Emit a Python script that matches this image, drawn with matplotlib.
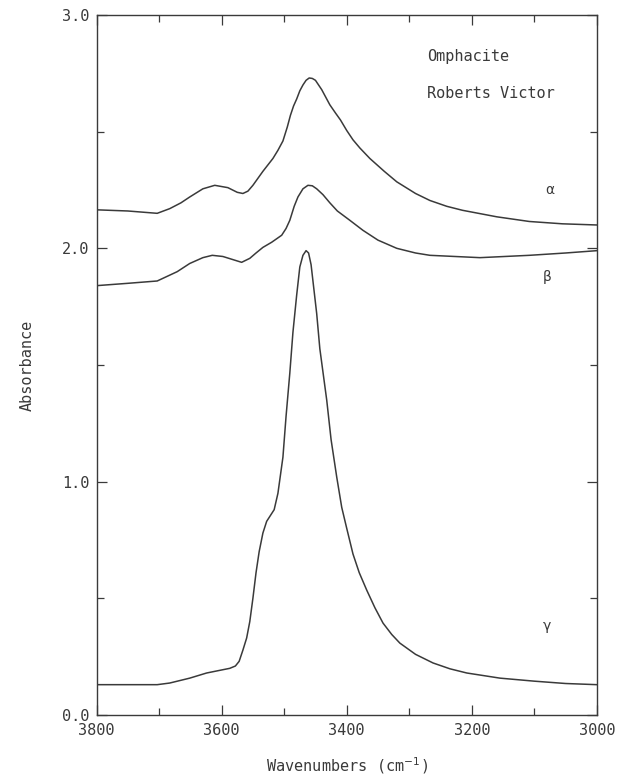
import matplotlib
matplotlib.use("Agg")
import matplotlib.pyplot as plt
from matplotlib.ticker import MultipleLocator, FormatStrFormatter

# spectra (wavenumber, absorbance)
alpha_wn = [3800, 3750, 3703, 3683, 3665, 3651, 3630, 3611, 3590, 3575, 3566, 3558,
            3550, 3542, 3534, 3518, 3510, 3502, 3495, 3490, 3485, 3480, 3475, 3470,
            3465, 3460, 3455, 3450, 3445, 3440, 3433, 3427, 3418, 3410, 3400, 3390,
            3379, 3363, 3340, 3320, 3290, 3267, 3240, 3215, 3160, 3108, 3055, 3000]
alpha_abs = [2.165, 2.16, 2.15, 2.17, 2.195, 2.22, 2.255, 2.27, 2.26, 2.24, 2.235, 2.245,
             2.27, 2.30, 2.33, 2.385, 2.42, 2.46, 2.52, 2.57, 2.61, 2.64, 2.675, 2.70,
             2.72, 2.73, 2.728, 2.72, 2.70, 2.68, 2.645, 2.615, 2.58, 2.55, 2.505, 2.465,
             2.43, 2.385, 2.33, 2.285, 2.235, 2.205, 2.18, 2.163, 2.135, 2.115, 2.105, 2.10]

beta_wn = [3800, 3750, 3703, 3671, 3651, 3630, 3615, 3598, 3580, 3568, 3555, 3545,
           3534, 3520, 3504, 3497, 3491, 3484, 3478, 3470, 3462, 3455, 3448, 3438,
           3427, 3415, 3395, 3374, 3350, 3320, 3290, 3267, 3187, 3108, 3050, 3000]
beta_abs = [1.84, 1.85, 1.86, 1.90, 1.935, 1.96, 1.97, 1.965, 1.95, 1.94, 1.957, 1.98,
            2.004, 2.026, 2.056, 2.085, 2.12, 2.18, 2.22, 2.255, 2.27, 2.268, 2.255, 2.23,
            2.195, 2.16, 2.12, 2.077, 2.035, 2.0, 1.98, 1.97, 1.96, 1.97, 1.98, 1.99]

gamma_wn = [3800, 3703, 3683, 3651, 3624, 3600, 3587, 3578, 3572, 3566, 3560, 3555,
            3550, 3545, 3540, 3534, 3528, 3522, 3516, 3510, 3502, 3497, 3491, 3486,
            3480, 3475, 3470, 3465, 3461, 3457, 3454, 3448, 3443, 3437, 3432, 3425,
            3416, 3408, 3400, 3390, 3380, 3368, 3355, 3342, 3328, 3315, 3290, 3262,
            3235, 3208, 3155, 3100, 3050, 3000]
gamma_abs = [0.13, 0.13, 0.137, 0.158, 0.18, 0.193, 0.20, 0.21, 0.23, 0.278, 0.33, 0.40,
             0.50, 0.61, 0.70, 0.78, 0.83, 0.855, 0.88, 0.95, 1.105, 1.28, 1.465, 1.64,
             1.80, 1.92, 1.97, 1.99, 1.98, 1.93, 1.86, 1.72, 1.57, 1.45, 1.35, 1.18,
             1.02, 0.89, 0.80, 0.69, 0.61, 0.535, 0.46, 0.394, 0.345, 0.308, 0.26, 0.223,
             0.198, 0.18, 0.158, 0.145, 0.135, 0.13]

labels = ["\u03b1", "\u03b2", "\u03b3"]
label_pos = [(3076, 2.25), (3079, 1.875), (3080, 0.38)]
title_lines = ["Omphacite", "Roberts Victor"]

ink = "#3a3a3a"
plt.rcParams['font.family'] = ['DejaVu Sans Mono', 'DejaVu Sans']

fig = plt.figure(figsize=(6.33, 7.76), dpi=100)
ax = fig.add_axes([0.1525, 0.0786, 0.7905, 0.9021])

for wn, ab in [(alpha_wn, alpha_abs), (beta_wn, beta_abs), (gamma_wn, gamma_abs)]:
    ax.plot(wn, ab, color=ink, lw=1.1)

ax.set_xlim(3800, 3000)
ax.set_ylim(0, 3.0)
ax.xaxis.set_major_locator(MultipleLocator(200))
ax.xaxis.set_minor_locator(MultipleLocator(100))
ax.yaxis.set_major_locator(MultipleLocator(1.0))
ax.yaxis.set_minor_locator(MultipleLocator(0.5))
ax.yaxis.set_major_formatter(FormatStrFormatter('%.1f'))
ax.tick_params(which='both', direction='in', top=True, right=True, color=ink,
               labelcolor=ink, labelsize=11)
ax.tick_params(which='major', length=7, width=0.9)
ax.tick_params(which='minor', length=5, width=0.9)
ax.tick_params(axis='x', pad=6)
ax.tick_params(axis='y', pad=5)
for s in ax.spines.values():
    s.set_color(ink)
    s.set_linewidth(1.0)

ax.set_xlabel("Wavenumbers (cm$^{-1}$)", color=ink, fontsize=11, labelpad=12)
ax.set_ylabel("Absorbance", color=ink, fontsize=11, labelpad=20)

for lab, (x, y) in zip(labels, label_pos):
    ax.text(x, y, lab, color=ink, fontsize=10, ha='center', va='center',
            family=['DejaVu Sans'])

ax.text(3272, 2.82, title_lines[0], color=ink, fontsize=11, ha='left', va='center')
ax.text(3272, 2.665, title_lines[1], color=ink, fontsize=11, ha='left', va='center')

fig.savefig("out.png", dpi=100, facecolor="white")
